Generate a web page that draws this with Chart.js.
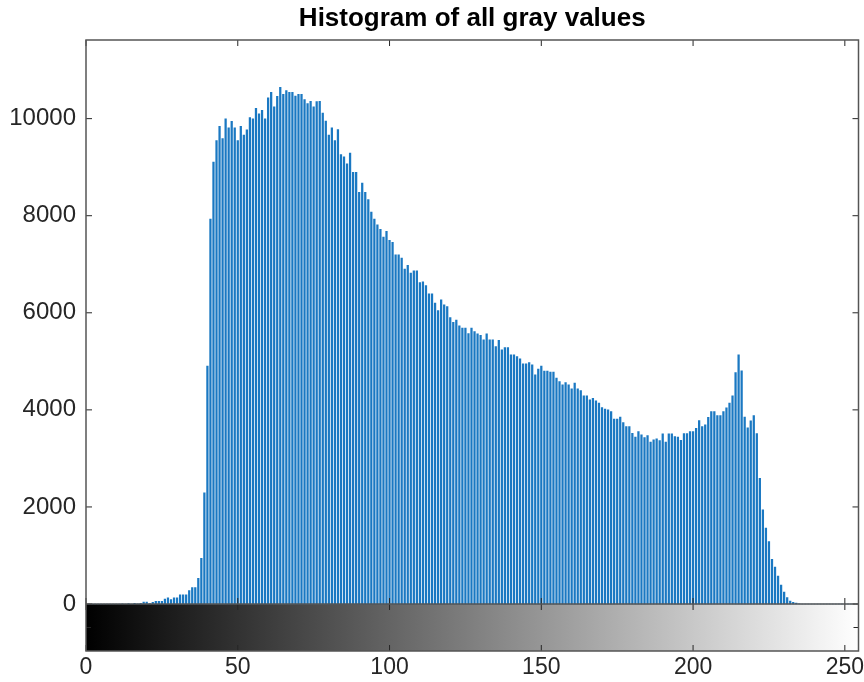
<!DOCTYPE html>
<html>
<head>
<meta charset="utf-8">
<script src="https://cdn.jsdelivr.net/npm/chart.js@4.4.1/dist/chart.umd.min.js"></script>
<style>
html,body{margin:0;padding:0;background:#fff;}
canvas{display:block;}
</style>
</head>
<body>
<canvas id="c" width="864" height="682"></canvas>
<script>
// ---------- data ----------
const chartTitle = 'Histogram of all gray values';
const grayLevels = Array.from({length: 256}, (_, i) => i);
const pixelCounts = [
  0,0,0,0,0,0,0,0,0,0,
  0,0,5,0,7,0,12,5,14,40,
  40,8,35,55,55,55,100,125,90,125,
  125,190,190,190,275,340,340,530,940,2290,
  4900,7930,9107,9550,9842,9588,9994,9808,9945,9808,
  9546,9842,9660,9770,10020,9994,10210,10097,10170,9994,
  10427,10543,10241,10460,10646,10500,10580,10543,10543,10465,
  10500,10500,10392,10309,10357,10241,10350,10357,10116,9950,
  9660,9808,9550,9773,9258,9215,9070,9292,8893,8893,
  8480,8674,8480,8330,8076,7931,7814,7720,7560,7677,
  7491,7450,7196,7196,7127,6900,6976,6820,6866,6866,
  6620,6640,6563,6390,6390,6200,6048,6268,6165,6130,
  5903,5805,5850,5732,5684,5684,5570,5684,5615,5567,
  5533,5444,5567,5444,5444,5306,5430,5237,5285,5285,
  5134,5134,5100,5050,4948,4948,4975,4927,4722,4838,
  4900,4800,4800,4777,4777,4653,4584,4515,4560,4515,
  4433,4550,4433,4399,4289,4289,4206,4240,4185,4138,
  4048,4014,4000,3965,3808,3808,3849,3739,3656,3656,
  3519,3437,3553,3484,3429,3470,3334,3381,3402,3367,
  3505,3334,3505,3505,3450,3440,3370,3510,3510,3550,
  3550,3620,3780,3656,3691,3845,3965,3965,3883,3883,
  3965,4040,4138,4289,4769,5134,4804,3849,3630,3775,
  3880,3510,2591,1938,1567,1285,922,760,577,392,
  247,135,58,35,20,5,0,0,0,0,
  0,0,0,0,0,0,0,0,0,0,
  0,0,0,0,0,0
];
const yTickValues = [0, 2000, 4000, 6000, 8000, 10000];
const xTickValues = [0, 50, 100, 150, 200, 250];

// ---------- styling ----------
const FONT = "'Liberation Sans', Arial, Helvetica, sans-serif";
const TEXT_COLOR = '#262626';
const BAR_COLOR = '#1a78c2';
const Y_MIN = -968, Y_MAX = 11620;
const X_MIN = 0, X_MAX = 254.5;

const axisDecor = {
  id: 'axisDecor',
  beforeDatasetsDraw(chart) {
    const {ctx, chartArea: a, scales: {x, y}} = chart;
    const y0 = y.getPixelForValue(0);
    const g = ctx.createLinearGradient(x.getPixelForValue(0), 0, x.getPixelForValue(255), 0);
    g.addColorStop(0, '#000000');
    g.addColorStop(1, '#ffffff');
    ctx.save();
    ctx.fillStyle = g;
    ctx.fillRect(a.left, y0, a.right - a.left, a.bottom - y0);
    ctx.restore();
  },
  afterDatasetsDraw(chart) {
    const {ctx, chartArea: a, scales: {x, y}} = chart;
    const y0 = y.getPixelForValue(0);
    ctx.save();
    ctx.strokeStyle = '#262626';
    ctx.lineWidth = 1;
    ctx.beginPath();
    const L = 6;
    yTickValues.forEach(v => {
      const py = y.getPixelForValue(v);
      ctx.moveTo(a.left, py); ctx.lineTo(a.left + L, py);
      ctx.moveTo(a.right, py); ctx.lineTo(a.right - L, py);
    });
    xTickValues.forEach(v => {
      const px = x.getPixelForValue(v);
      ctx.moveTo(px, a.top); ctx.lineTo(px, a.top + L);
      ctx.moveTo(px, y0 - L); ctx.lineTo(px, y0 + L);
      ctx.moveTo(px, a.bottom); ctx.lineTo(px, a.bottom - L);
    });
    const ym = y.getPixelForValue(Y_MIN / 2);
    ctx.moveTo(a.left, ym); ctx.lineTo(a.left + 5, ym);
    ctx.moveTo(a.right, ym); ctx.lineTo(a.right - 5, ym);
    ctx.stroke();
    ctx.strokeStyle = '#555555';
    ctx.lineWidth = 1.5;
    ctx.strokeRect(a.left, a.top, a.right - a.left, a.bottom - a.top);
    ctx.beginPath();
    ctx.moveTo(a.left, y0); ctx.lineTo(a.right, y0);
    ctx.stroke();
    ctx.restore();
  }
};

new Chart(document.getElementById('c'), {
  type: 'bar',
  data: {
    datasets: [{
      data: grayLevels.map((g, i) => ({x: g, y: pixelCounts[i]})),
      backgroundColor: BAR_COLOR,
      borderWidth: 0,
      barThickness: 1.6
    }]
  },
  options: {
    responsive: false,
    animation: false,
    devicePixelRatio: 1,
    layout: {padding: {left: 0, right: 5.5, top: 0, bottom: 0}},
    plugins: {
      legend: {display: false},
      tooltip: {enabled: false},
      title: {
        display: true,
        text: chartTitle,
        fullSize: false,
        color: '#000000',
        font: {family: FONT, size: 26, weight: 'bold', lineHeight: 1.2},
        padding: {top: 3, bottom: 5.8}
      }
    },
    scales: {
      x: {
        type: 'linear',
        min: X_MIN,
        max: X_MAX,
        offset: false,
        grid: {display: false, drawTicks: false},
        border: {display: false},
        afterBuildTicks: s => { s.ticks = xTickValues.map(v => ({value: v})); },
        afterFit: s => { s.height = 31; s.paddingLeft = 0; s.paddingRight = 0; },
        ticks: {
          color: TEXT_COLOR,
          font: {family: FONT, size: 23},
          padding: 3,
          maxRotation: 0,
          autoSkip: false,
          callback: v => String(v)
        }
      },
      y: {
        type: 'linear',
        min: Y_MIN,
        max: Y_MAX,
        grid: {display: false, drawTicks: false},
        border: {display: false},
        afterBuildTicks: s => { s.ticks = yTickValues.map(v => ({value: v})); },
        afterFit: s => { s.width = 86; },
        ticks: {
          color: TEXT_COLOR,
          font: {family: FONT, size: 24},
          padding: 10,
          autoSkip: false,
          callback: v => String(v)
        }
      }
    }
  },
  plugins: [axisDecor]
});
</script>
</body>
</html>
